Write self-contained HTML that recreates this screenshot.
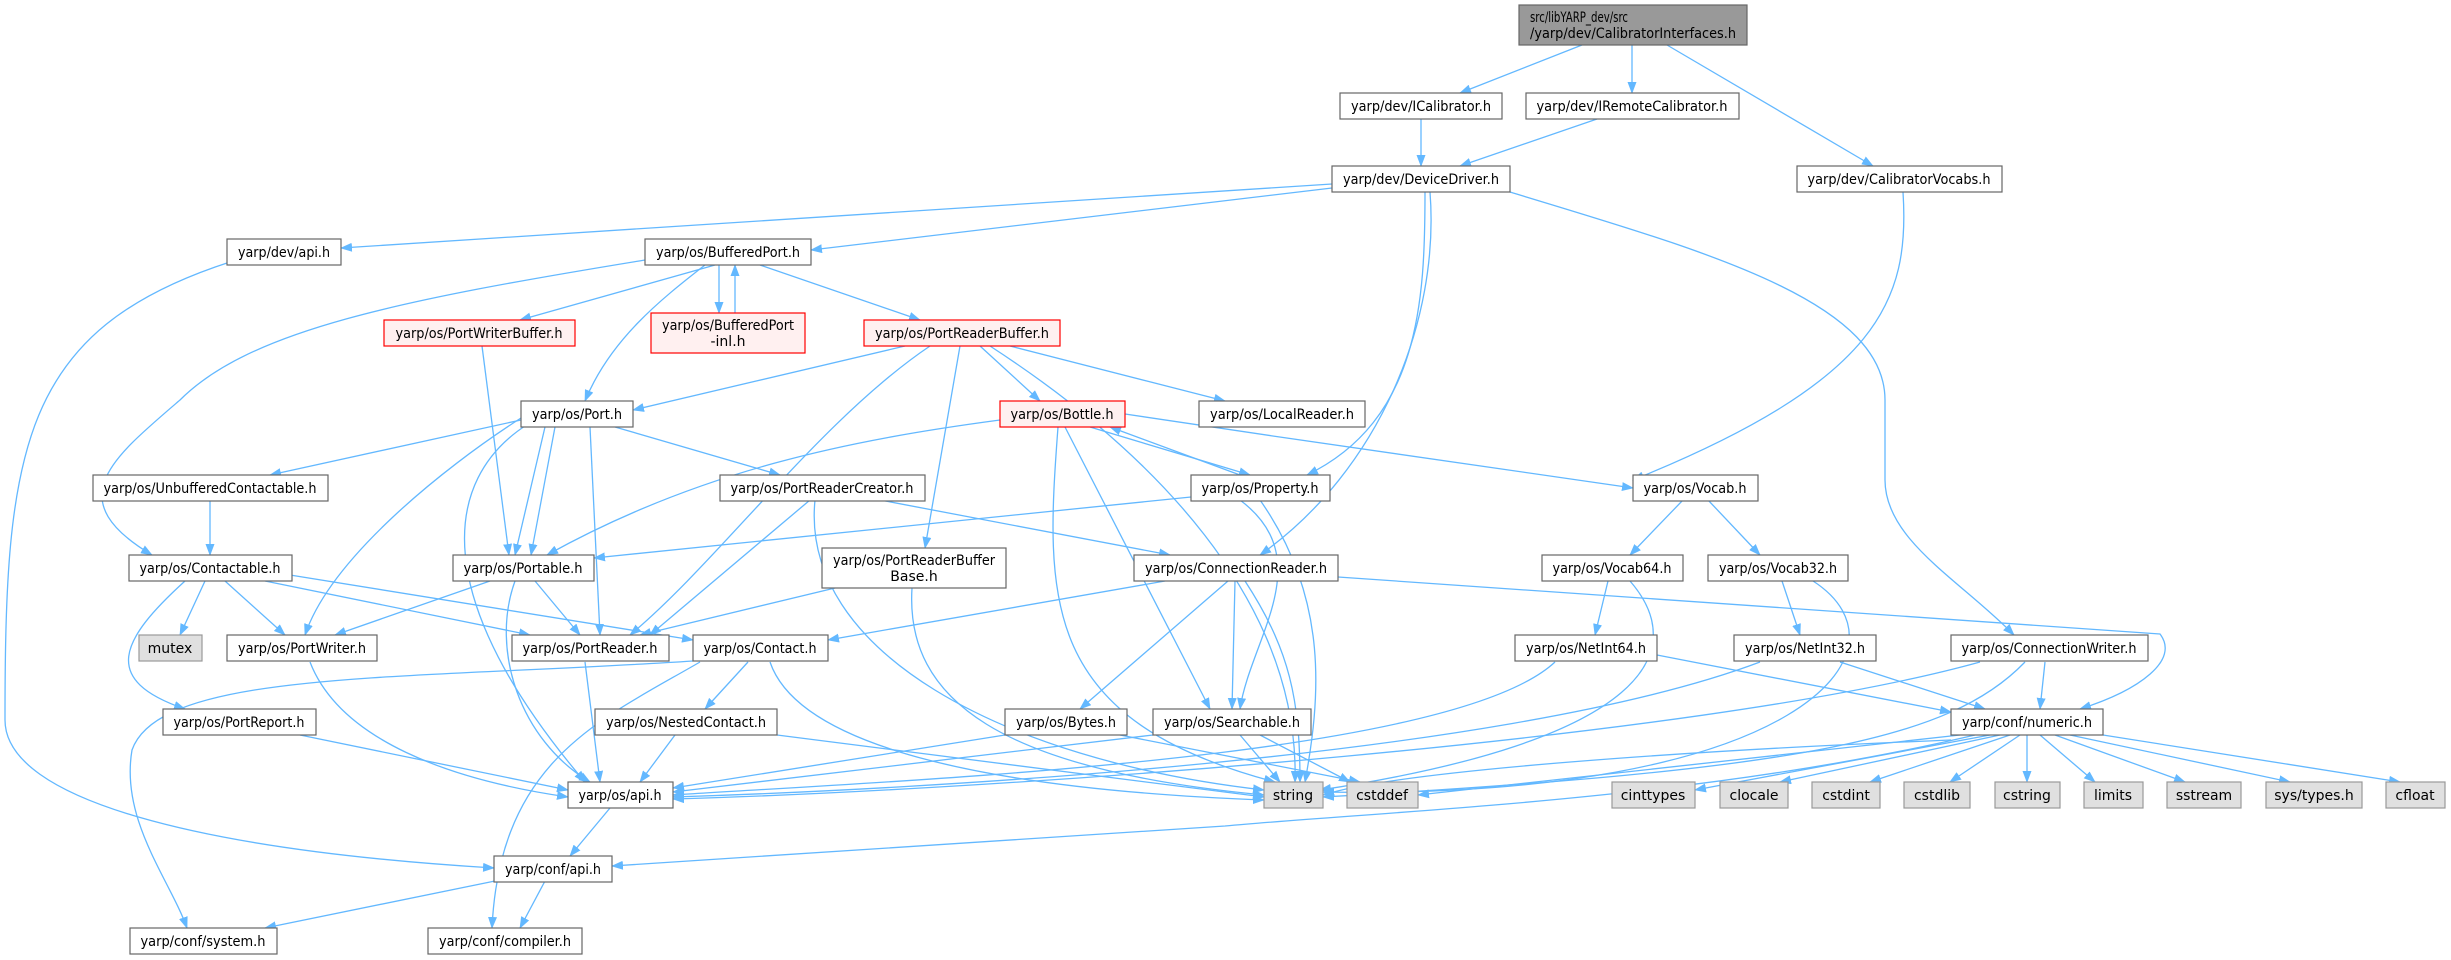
<!DOCTYPE html>
<html><head><meta charset="utf-8"><style>
html,body{margin:0;padding:0;background:#fff}
svg{display:block}
text{font-family:"DejaVu Sans","Liberation Sans",sans-serif;font-size:14px;fill:#000;text-anchor:middle}
.n rect{fill:#fff;stroke:#666;stroke-width:1.2}
.r rect{fill:#fff0f0;stroke:#f00;stroke-width:1.2}
.g rect{fill:#e0e0e0;stroke:#999;stroke-width:1.2}
.e path{fill:none;stroke:#63b8ff;stroke-width:1.3;marker-end:url(#a)}
</style></head><body>
<svg width="2451" height="960" viewBox="0 0 2451 960" xmlns="http://www.w3.org/2000/svg">
<defs><marker id="a" markerWidth="12" markerHeight="9" refX="11" refY="4.5" orient="auto" markerUnits="userSpaceOnUse"><path d="M0,0 L12,4.5 L0,9 z" fill="#63b8ff"/></marker></defs>
<g class="e">
<path d="M1582 45 L1460 93"/><path d="M1632 45 L1632 93"/><path d="M1667 45 L1873 166"/>
<path d="M1421 119 L1421 166"/><path d="M1597 119 L1460 166"/>
<path d="M1332 184 L341 248"/><path d="M1332 188 L811 250"/>
<path d="M1425 192 C1425 300,1420 420,1307 475"/>
<path d="M1430 192 C1440 320,1380 470,1260 555"/>
<path d="M1510 192 C1700 250,1885 300,1885 400 L1885 480 C1885 540,1960 580,2014 635"/>
<path d="M1903 192 C1910 300,1880 380,1633 480"/>
<path d="M230 262 C20 330,5 450,5 720 C5 800,200 850,494 868"/>
<path d="M715 265 L520 320"/><path d="M719 265 L719 313"/><path d="M735 313 L735 265"/><path d="M760 265 L920 320"/>
<path d="M705 265 C660 300,610 340,585 401"/>
<path d="M645 260 C400 300,250 330,180 400 C110 460,60 500,152 555"/>
<path d="M482 346 L509 555"/>
<path d="M905 346 L633 410"/>
<path d="M930 346 C820 420,720 560,630 635"/>
<path d="M960 346 L925 548"/>
<path d="M980 346 L1040 401"/>
<path d="M1010 346 L1225 401"/>
<path d="M990 346 C1150 450,1300 600,1295 782"/>
<path d="M521 420 L270 475"/><path d="M615 427 L780 475"/>
<path d="M555 427 L531 555"/><path d="M545 427 L515 555"/>
<path d="M590 427 L600 635"/>
<path d="M521 418 C440 470,330 560,305 635"/>
<path d="M528 424 C440 480,430 600,585 782"/>
<path d="M1000 420 C850 440,700 470,547 555"/>
<path d="M1191 497 L594 558"/>
<path d="M1090 427 L1250 475"/><path d="M1240 475 L1110 427"/>
<path d="M1125 414 C1300 440,1500 470,1633 488"/>
<path d="M1058 427 C1045 600,1040 720,1275 782"/>
<path d="M1065 427 L1210 709"/>
<path d="M1240 500 C1320 560,1250 640,1240 709"/>
<path d="M1260 500 C1330 600,1320 700,1305 782"/>
<path d="M210 500 L210 555"/>
<path d="M880 500 L1170 555"/><path d="M810 500 L650 635"/>
<path d="M815 500 C800 650,1000 760,1264 790"/>
<path d="M1683 500 L1630 555"/><path d="M1708 500 L1760 555"/>
<path d="M205 581 L180 635"/><path d="M225 581 L285 635"/>
<path d="M265 581 L530 635"/><path d="M290 575 L693 640"/>
<path d="M185 581 C120 640,100 680,185 709"/>
<path d="M490 581 L335 635"/><path d="M535 581 L580 635"/>
<path d="M515 581 C490 650,520 740,590 782"/>
<path d="M835 588 L640 635"/>
<path d="M912 588 C905 700,1000 770,1264 795"/>
<path d="M1165 581 L828 640"/><path d="M1228 581 L1080 709"/><path d="M1235 581 L1232 709"/>
<path d="M1245 581 C1290 650,1300 700,1300 782"/>
<path d="M1338 577 L2160 634 C2180 660,2140 690,2080 709"/>
<path d="M1608 581 L1595 635"/>
<path d="M1630 581 C1690 650,1650 740,1320 790"/>
<path d="M1782 581 L1800 635"/>
<path d="M1813 581 C1920 650,1800 800,1323 792"/>
<path d="M310 662 C340 740,450 780,568 797"/>
<path d="M585 662 L600 782"/>
<path d="M748 662 L705 709"/>
<path d="M770 662 C800 750,1000 790,1264 800"/>
<path d="M693 661 C400 680,160 670,132 750 C120 820,170 880,187 928"/>
<path d="M700 662 C600 720,500 760,492 928"/>
<path d="M1657 655 L1951 712"/>
<path d="M1555 662 C1450 760,900 780,673 795"/>
<path d="M1840 662 L1985 709"/>
<path d="M1760 662 C1500 760,900 790,673 797"/>
<path d="M2045 662 L2040 709"/>
<path d="M1980 662 C1700 740,1000 790,673 799"/>
<path d="M2025 662 C1950 740,1800 770,1323 797"/>
<path d="M300 735 L568 790"/>
<path d="M675 735 L640 782"/><path d="M777 735 L1264 797"/>
<path d="M1005 735 L673 788"/><path d="M1120 735 L1360 782"/>
<path d="M1153 735 L673 792"/><path d="M1240 735 L1280 782"/><path d="M1260 735 L1350 782"/>
<path d="M1951 740 C1700 750,1400 770,1323 795"/>
<path d="M1960 735 L1418 795"/>
<path d="M1990 735 L1695 790"/><path d="M2000 735 L1780 782"/><path d="M2010 735 L1870 782"/>
<path d="M2020 735 L1950 782"/><path d="M2027 735 L2027 782"/><path d="M2040 735 L2095 782"/>
<path d="M2055 735 L2185 782"/><path d="M2070 735 L2290 782"/><path d="M2103 735 L2400 782"/>
<path d="M1975 735 C1700 800,1400 810,1225 826 L612 866"/>
<path d="M610 808 L570 856"/>
<path d="M495 881 L265 928"/><path d="M545 881 L520 928"/>
</g>

<g><rect x="1519" y="5" width="228" height="40" fill="#999" stroke="#666" stroke-width="1.2"/>
<text x="1530" y="22" style="text-anchor:start" textLength="98" lengthAdjust="spacingAndGlyphs">src/libYARP_dev/src</text>
<text x="1530" y="38" style="text-anchor:start" textLength="206" lengthAdjust="spacingAndGlyphs">/yarp/dev/CalibratorInterfaces.h</text></g>

<g class="n"><rect x="1340" y="93" width="162" height="26"/><text x="1421" y="111" textLength="140" lengthAdjust="spacingAndGlyphs">yarp/dev/ICalibrator.h</text></g>
<g class="n"><rect x="1526" y="93" width="213" height="26"/><text x="1632" y="111" textLength="191" lengthAdjust="spacingAndGlyphs">yarp/dev/IRemoteCalibrator.h</text></g>
<g class="n"><rect x="1332" y="166" width="178" height="26"/><text x="1421" y="184" textLength="156" lengthAdjust="spacingAndGlyphs">yarp/dev/DeviceDriver.h</text></g>
<g class="n"><rect x="1797" y="166" width="205" height="26"/><text x="1899" y="184" textLength="183" lengthAdjust="spacingAndGlyphs">yarp/dev/CalibratorVocabs.h</text></g>
<g class="n"><rect x="227" y="239" width="114" height="26"/><text x="284" y="257" textLength="92" lengthAdjust="spacingAndGlyphs">yarp/dev/api.h</text></g>
<g class="n"><rect x="645" y="239" width="166" height="26"/><text x="728" y="257" textLength="144" lengthAdjust="spacingAndGlyphs">yarp/os/BufferedPort.h</text></g>
<g class="r"><rect x="384" y="320" width="191" height="26"/><text x="479" y="338" textLength="167" lengthAdjust="spacingAndGlyphs">yarp/os/PortWriterBuffer.h</text></g>
<g class="r"><rect x="651" y="313" width="154" height="40"/><text x="728" y="330" textLength="132" lengthAdjust="spacingAndGlyphs">yarp/os/BufferedPort</text><text x="728" y="346">-inl.h</text></g>
<g class="r"><rect x="864" y="320" width="196" height="26"/><text x="962" y="338" textLength="174" lengthAdjust="spacingAndGlyphs">yarp/os/PortReaderBuffer.h</text></g>
<g class="n"><rect x="521" y="401" width="112" height="26"/><text x="577" y="419" textLength="90" lengthAdjust="spacingAndGlyphs">yarp/os/Port.h</text></g>
<g class="r"><rect x="1000" y="401" width="125" height="26"/><text x="1062" y="419" textLength="103" lengthAdjust="spacingAndGlyphs">yarp/os/Bottle.h</text></g>
<g class="n"><rect x="1199" y="401" width="166" height="26"/><text x="1282" y="419" textLength="144" lengthAdjust="spacingAndGlyphs">yarp/os/LocalReader.h</text></g>
<g class="n"><rect x="93" y="475" width="235" height="26"/><text x="210" y="493" textLength="213" lengthAdjust="spacingAndGlyphs">yarp/os/UnbufferedContactable.h</text></g>
<g class="n"><rect x="720" y="475" width="205" height="26"/><text x="822" y="493" textLength="183" lengthAdjust="spacingAndGlyphs">yarp/os/PortReaderCreator.h</text></g>
<g class="n"><rect x="1191" y="475" width="139" height="26"/><text x="1260" y="493" textLength="117" lengthAdjust="spacingAndGlyphs">yarp/os/Property.h</text></g>
<g class="n"><rect x="1633" y="475" width="125" height="26"/><text x="1695" y="493" textLength="103" lengthAdjust="spacingAndGlyphs">yarp/os/Vocab.h</text></g>
<g class="n"><rect x="129" y="555" width="163" height="26"/><text x="210" y="573" textLength="141" lengthAdjust="spacingAndGlyphs">yarp/os/Contactable.h</text></g>
<g class="n"><rect x="453" y="555" width="141" height="26"/><text x="523" y="573" textLength="119" lengthAdjust="spacingAndGlyphs">yarp/os/Portable.h</text></g>
<g class="n"><rect x="822" y="548" width="184" height="40"/><text x="914" y="565" textLength="162" lengthAdjust="spacingAndGlyphs">yarp/os/PortReaderBuffer</text><text x="914" y="581">Base.h</text></g>
<g class="n"><rect x="1134" y="555" width="204" height="26"/><text x="1236" y="573" textLength="182" lengthAdjust="spacingAndGlyphs">yarp/os/ConnectionReader.h</text></g>
<g class="n"><rect x="1542" y="555" width="141" height="26"/><text x="1612" y="573" textLength="119" lengthAdjust="spacingAndGlyphs">yarp/os/Vocab64.h</text></g>
<g class="n"><rect x="1708" y="555" width="140" height="26"/><text x="1778" y="573" textLength="118" lengthAdjust="spacingAndGlyphs">yarp/os/Vocab32.h</text></g>
<g class="g"><rect x="139" y="635" width="63" height="26"/><text x="170" y="653">mutex</text></g>
<g class="n"><rect x="227" y="635" width="150" height="26"/><text x="302" y="653" textLength="128" lengthAdjust="spacingAndGlyphs">yarp/os/PortWriter.h</text></g>
<g class="n"><rect x="512" y="635" width="157" height="26"/><text x="590" y="653" textLength="135" lengthAdjust="spacingAndGlyphs">yarp/os/PortReader.h</text></g>
<g class="n"><rect x="693" y="635" width="135" height="26"/><text x="760" y="653" textLength="113" lengthAdjust="spacingAndGlyphs">yarp/os/Contact.h</text></g>
<g class="n"><rect x="1515" y="635" width="142" height="26"/><text x="1586" y="653" textLength="120" lengthAdjust="spacingAndGlyphs">yarp/os/NetInt64.h</text></g>
<g class="n"><rect x="1734" y="635" width="142" height="26"/><text x="1805" y="653" textLength="120" lengthAdjust="spacingAndGlyphs">yarp/os/NetInt32.h</text></g>
<g class="n"><rect x="1951" y="635" width="197" height="26"/><text x="2049" y="653" textLength="175" lengthAdjust="spacingAndGlyphs">yarp/os/ConnectionWriter.h</text></g>
<g class="n"><rect x="163" y="709" width="153" height="26"/><text x="239" y="727" textLength="131" lengthAdjust="spacingAndGlyphs">yarp/os/PortReport.h</text></g>
<g class="n"><rect x="595" y="709" width="182" height="26"/><text x="686" y="727" textLength="160" lengthAdjust="spacingAndGlyphs">yarp/os/NestedContact.h</text></g>
<g class="n"><rect x="1005" y="709" width="122" height="26"/><text x="1066" y="727" textLength="100" lengthAdjust="spacingAndGlyphs">yarp/os/Bytes.h</text></g>
<g class="n"><rect x="1153" y="709" width="158" height="26"/><text x="1232" y="727" textLength="136" lengthAdjust="spacingAndGlyphs">yarp/os/Searchable.h</text></g>
<g class="n"><rect x="1951" y="709" width="152" height="26"/><text x="2027" y="727" textLength="130" lengthAdjust="spacingAndGlyphs">yarp/conf/numeric.h</text></g>
<g class="n"><rect x="568" y="782" width="105" height="26"/><text x="620" y="800" textLength="83" lengthAdjust="spacingAndGlyphs">yarp/os/api.h</text></g>
<g class="g"><rect x="1264" y="782" width="59" height="26"/><text x="1293" y="800">string</text></g>
<g class="g"><rect x="1347" y="782" width="71" height="26"/><text x="1382" y="800">cstddef</text></g>
<g class="g"><rect x="1612" y="782" width="83" height="26"/><text x="1653" y="800">cinttypes</text></g>
<g class="g"><rect x="1720" y="782" width="68" height="26"/><text x="1754" y="800">clocale</text></g>
<g class="g"><rect x="1812" y="782" width="68" height="26"/><text x="1846" y="800">cstdint</text></g>
<g class="g"><rect x="1904" y="782" width="66" height="26"/><text x="1937" y="800">cstdlib</text></g>
<g class="g"><rect x="1995" y="782" width="65" height="26"/><text x="2027" y="800">cstring</text></g>
<g class="g"><rect x="2084" y="782" width="59" height="26"/><text x="2113" y="800">limits</text></g>
<g class="g"><rect x="2167" y="782" width="74" height="26"/><text x="2204" y="800">sstream</text></g>
<g class="g"><rect x="2266" y="782" width="96" height="26"/><text x="2314" y="800">sys/types.h</text></g>
<g class="g"><rect x="2386" y="782" width="59" height="26"/><text x="2415" y="800">cfloat</text></g>
<g class="n"><rect x="494" y="856" width="118" height="26"/><text x="553" y="874" textLength="96" lengthAdjust="spacingAndGlyphs">yarp/conf/api.h</text></g>
<g class="n"><rect x="130" y="928" width="147" height="26"/><text x="203" y="946" textLength="125" lengthAdjust="spacingAndGlyphs">yarp/conf/system.h</text></g>
<g class="n"><rect x="428" y="928" width="154" height="26"/><text x="505" y="946" textLength="132" lengthAdjust="spacingAndGlyphs">yarp/conf/compiler.h</text></g>
</svg>
</body></html>
